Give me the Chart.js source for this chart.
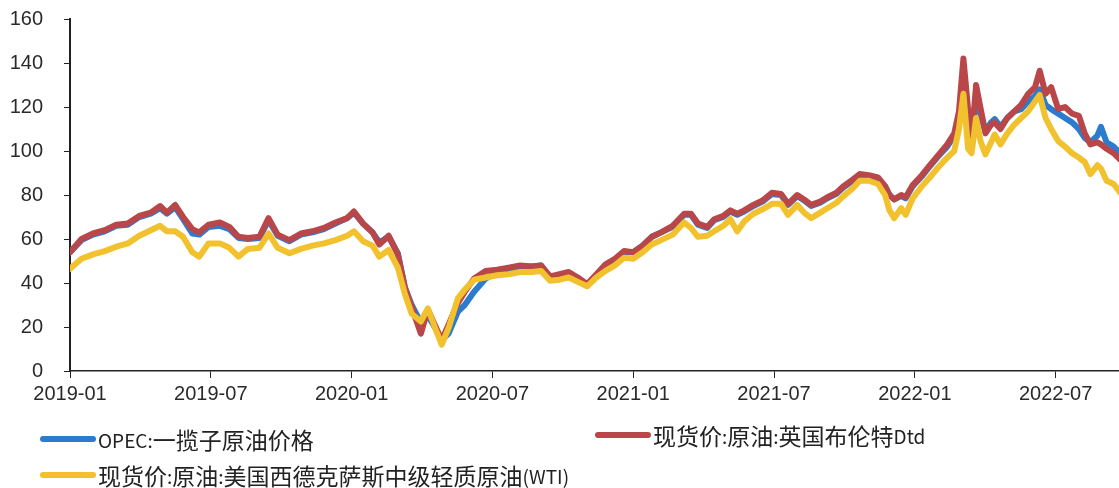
<!DOCTYPE html>
<html lang="zh">

<head>
    <meta charset="UTF-8">
    <script src="https://cdn.jsdelivr.net/npm/chart.js"></script>
    <title>原油价格</title>
    <style>
        body { margin: 0; background: #fff; }
        #wrap { position: relative; width: 1119px; height: 488px; overflow: hidden; }
        .item { position: absolute; display: flex; align-items: center; font-family: "Noto Sans CJK SC", sans-serif; font-size: 23px; color: #222; white-space: nowrap; }
        .item .lat { font-size: 19px; }
        .swatch { width: 56px; height: 6px; border-radius: 3px; margin-right: 2px; }
    </style>
</head>

<body>
    <div id="wrap">
        <canvas id="myChart" width="1119" height="488"></canvas>
        <div class="item" style="left:40px; top:422px;"><span class="swatch" style="background:#2B7BCF"></span><span class="lat">OPEC:</span>一揽子原油价格</div>
        <div class="item" style="left:595px; top:418px;"><span class="swatch" style="background:#B9474A"></span>现货价<span class="lat">:</span>原油<span class="lat">:</span>英国布伦特<span class="lat">Dtd</span></div>
        <div class="item" style="left:40px; top:458px;"><span class="swatch" style="background:#F2C12E"></span>现货价<span class="lat">:</span>原油<span class="lat">:</span>美国西德克萨斯中级轻质原油<span class="lat">(WTI)</span></div>
    </div>
    <script>
        // position in months from 2019-01
        const monthPos = [
            0, 0.49, 0.98, 1.48, 1.97, 2.46, 2.95, 3.44, 3.84, 4.13, 4.48, 4.82, 5.21, 5.51, 5.9, 6.39, 6.79, 7.18, 7.58, 8.07,
            8.46, 8.85, 9.35, 9.84, 10.33, 10.82, 11.31, 11.81, 12.1, 12.49, 12.89, 13.18, 13.58, 13.97, 14.27, 14.56, 14.95, 15.25, 15.54, 15.84,
            16.13, 16.53, 16.82, 17.22, 17.71, 18.2, 18.69, 19.18, 19.68, 20.07, 20.46, 20.86, 21.25, 21.64, 22.04, 22.43, 22.82, 23.22, 23.61, 24.0,
            24.4, 24.79, 25.19, 25.68, 26.17, 26.46, 26.76, 27.15, 27.45, 27.84, 28.14, 28.43, 28.73, 29.12, 29.51, 29.91, 30.3, 30.6, 30.99, 31.28,
            31.58, 31.97, 32.27, 32.66, 32.96, 33.35, 33.65, 34.04, 34.43, 34.73, 34.92, 35.12, 35.42, 35.61, 35.91, 36.3, 36.6, 36.99, 37.38, 37.68,
            37.88, 38.07, 38.27, 38.42, 38.61, 38.81, 39.01, 39.25, 39.4, 39.65, 39.94, 40.24, 40.53, 40.83, 41.12, 41.32, 41.57, 41.81, 42.11, 42.4,
            42.7, 42.99, 43.24, 43.48, 43.78, 43.93, 44.17, 44.47, 44.76
        ];

        const brentDtd = [
            54, 60, 62.5, 64, 66.5, 67, 70.5, 72, 75, 72, 75.5, 70, 64.5, 63, 66.5, 67.5, 65.5, 61, 60.5, 61,
            69.5, 62, 59.5, 62.5, 63.5, 65, 67.5, 69.5, 72.5, 67, 63, 57.5, 61.5, 53, 38, 29, 17, 28, 21, 14,
            21, 31, 36, 42, 45.5, 46, 47, 48, 47.5, 48, 43, 44, 45, 42.5, 39.5, 44, 48.5, 51, 54.5, 54,
            57, 61, 63, 66, 71.5, 71.5, 67, 65.5, 69, 70.5, 73, 71.5, 73, 75.5, 77.5, 81, 80.5, 76, 80, 78,
            75.5, 77, 79, 81, 84, 87, 89.5, 89, 88, 84, 80, 78, 80, 79, 84.5, 89, 93, 98, 103, 108,
            118, 142, 119, 105, 130, 119, 108, 112, 113, 110, 115, 118, 121, 126, 129, 136.5, 126, 129, 119, 120,
            117, 116, 108, 103, 104, 103, 101, 99, 96
        ];

        const opecBasket = [
            54, 59.5, 62, 63.5, 66, 66.5, 70, 71.5, 74, 71.5, 74.5, 69, 62.5, 62, 65.5, 66, 64.5, 60.5, 60, 60.5,
            68.5, 61.5, 59, 62, 63, 64.5, 67, 69.5, 72, 67, 63, 58.5, 61, 53.5, 38, 30, 22, 25, 20, 14,
            17, 27, 30, 36, 42, 45, 46.5, 47.5, 47.5, 48, 42.5, 43.5, 44.5, 42, 39, 43.5, 48, 50.5, 54, 54,
            57, 61, 63, 65.5, 71, 71, 66.5, 65, 68.5, 70, 72.5, 71, 72.5, 75, 77, 80.5, 80, 75.5, 79.5, 77.5,
            75, 76.5, 78.5, 80.5, 83.5, 86.5, 89, 88.5, 87.5, 84, 80, 78, 79.5, 78.5, 84, 88.5, 92.5, 97.5, 102, 107,
            115, 133, 116, 106, 125, 116, 109, 113, 114.5, 111, 115, 118, 119, 122.5, 125, 128, 121, 119, 117, 115,
            113, 110, 106, 104, 107, 111, 104, 102, 99
        ];

        const wtiSpot = [
            46.5, 51, 53, 54.5, 56.5, 58, 61.5, 64, 66, 63.5, 63.5, 61, 54, 52, 58, 58, 56, 52, 55.5, 56,
            62.5, 56, 53.5, 55.5, 57, 58, 59.5, 61.5, 63.5, 59, 57, 52, 55, 47, 35, 26, 22.5, 28.5, 20, 12,
            19.5, 33, 37, 41.5, 42.5, 43.5, 44, 45, 45, 45.5, 41, 41.5, 42.5, 40.5, 38.5, 42.5, 45.5, 48, 51.5, 51,
            54, 57.5, 59.5, 62, 67.5, 65, 61, 61.5, 63.5, 66, 69, 63.5, 68, 71.5, 73.5, 76, 76, 71, 75.5, 72,
            69.5, 72, 74, 76.5, 79.5, 83, 86.5, 86.5, 85, 80, 73, 69.5, 74, 71, 78.5, 84, 87.5, 92.5, 97, 100,
            110, 126, 101, 99, 115, 104, 98.5, 104, 107.5, 103, 108, 112, 115, 118, 122.5, 125.5, 115, 110, 104.5, 102,
            99, 97, 95, 89.5, 93.5, 92, 86.5, 85, 81
        ];

        const xTickLabels = ['2019-01', '2019-07', '2020-01', '2020-07', '2021-01', '2021-07', '2022-01', '2022-07'];

        const toPoints = (vals) => vals.map((v, i) => ({ x: monthPos[i], y: v }));

        const lineStyle = {
            borderWidth: 6,
            pointRadius: 0,
            tension: 0,
            fill: false,
            borderJoinStyle: 'round',
            borderCapStyle: 'round',
        };

        const chartConfig = {
            type: 'line',
            data: {
                datasets: [
                    { label: 'OPEC:一揽子原油价格', data: toPoints(opecBasket), borderColor: '#2B7BCF', order: 3, ...lineStyle },
                    { label: '现货价:原油:英国布伦特Dtd', data: toPoints(brentDtd), borderColor: '#B9474A', order: 2, ...lineStyle },
                    { label: '现货价:原油:美国西德克萨斯中级轻质原油(WTI)', data: toPoints(wtiSpot), borderColor: '#F2C12E', order: 1, ...lineStyle },
                ],
            },
            options: {
                responsive: false,
                animation: false,
                layout: { padding: { top: 19, left: 8, right: 0, bottom: 78 } },
                plugins: { legend: { display: false }, tooltip: { enabled: false } },
                scales: {
                    x: {
                        type: 'linear',
                        min: 0,
                        max: 44.7,
                        border: { color: '#222', width: 1.5 },
                        grid: { drawOnChartArea: false, drawTicks: true, tickLength: 7, color: '#222' },
                        ticks: {
                            stepSize: 6,
                            includeBounds: false,
                            autoSkip: false,
                            maxRotation: 0,
                            padding: 4,
                            color: '#2a2a2a',
                            font: { family: 'Liberation Sans', size: 20 },
                            callback: (v) => xTickLabels[v / 6] ?? '',
                        },
                    },
                    y: {
                        min: 0,
                        max: 160,
                        border: { color: '#222', width: 2 },
                        grid: { drawOnChartArea: false, drawTicks: true, tickLength: 6, color: '#222' },
                        ticks: {
                            stepSize: 20,
                            padding: 21,
                            color: '#2a2a2a',
                            font: { family: 'Liberation Sans', size: 20 },
                        },
                        afterFit: (scale) => { scale.width = 62; scale.paddingTop = 0; },
                    },
                },
            },
        };

        const ctx = document.getElementById('myChart').getContext('2d');
        const myChart = new Chart(ctx, chartConfig);
    </script>
</body>

</html>
